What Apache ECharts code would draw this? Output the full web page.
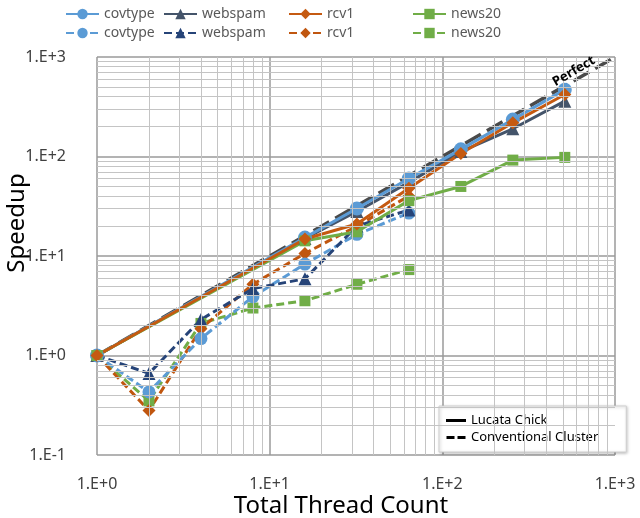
<!DOCTYPE html>
<html lang="en" style="height: 100%">
<head>
  <meta charset="utf-8">
</head>
<body style="height: 100%; margin: 0; background: #fff">
  <div id="container" style="width: 640px; height: 518px"></div>

  <script type="text/javascript" src="https://cdn.jsdelivr.net/npm/echarts@6/dist/echarts.min.js"></script>

  <script type="text/javascript">
    // thread counts
    const threadsChick = [1, 16, 32, 64, 128, 256, 512];
    const threadsCluster = [1, 2, 4, 8, 16, 32, 64];
    const perfectX = [1, 1000];

    // speedup, Lucata Chick (solid)
    const covtypeChick = [1, 15.3, 30, 60, 118, 235, 470];
    const webspamChick = [1, 15, 28, 55, 112, 190, 360];
    const rcv1Chick = [1, 14.8, 21, 48, 107, 218, 420];
    const news20Chick = [1, 14.2, 17.5, 36, 50, 92, 98];

    // speedup, conventional cluster (dashed)
    const covtypeCluster = [1, 0.43, 1.48, 3.9, 8.3, 16.5, 27];
    const webspamCluster = [1, 0.66, 2.3, 4.7, 5.9, 20, 29];
    const rcv1Cluster = [1, 0.28, 1.86, 5.2, 10.6, 20, 40];
    const news20Cluster = [1, 0.35, 2.1, 3.0, 3.55, 5.2, 7.3];

    const xDecades = [1, 10, 100];
    const yDecades = [0.1, 1, 10, 100];

    const font = '"Noto Sans", "Liberation Sans", sans-serif';

    function pairs(xs, ys) {
      return xs.map((x, i) => [x, ys[i]]);
    }

    function expLabel(v) {
      const e = Math.round(Math.log10(v));
      return '1.E' + (e < 0 ? '-' : '+') + Math.abs(e);
    }

    // minor grid lines at 2..9 times each decade
    const xMinor = [];
    xDecades.forEach(d => { for (let k = 2; k <= 9; k++) xMinor.push(d * k); });
    const yMinor = [];
    yDecades.forEach(d => { for (let k = 2; k <= 9; k++) yMinor.push(+(d * k).toPrecision(3)); });

    var dom = document.getElementById('container');
    var myChart = echarts.init(dom, null, { renderer: 'canvas' });

    function speedSeries(name, xs, ys, color, symbol, size, dashed) {
      return {
        name: name,
        type: 'line',
        data: pairs(xs, ys),
        color: color,
        symbol: symbol,
        symbolSize: size,
        showSymbol: true,
        lineStyle: { width: 3, type: dashed ? [8, 4] : 'solid', color: color },
        itemStyle: { color: color },
        z: 3
      };
    }

    function topLegend(pos, names) {
      return Object.assign({
        orient: 'vertical',
        top: 7,
        itemWidth: 33,
        itemHeight: 13,
        itemGap: 5,
        padding: 0,
        align: 'left',
        selectedMode: false,
        data: names,
        formatter: n => n.trim(),
        textStyle: { fontFamily: font, fontSize: 14, color: '#595959' }
      }, pos);
    }

    const solidIcon = 'path://M0,0H20V3H0Z';
    const dashIcon = 'path://M0,0H8V3H0Z M11,0H19V3H11Z';

    var option = {
      animation: false,
      grid: { left: 97, right: 25, top: 57, bottom: 63, outerBoundsMode: 'none', containLabel: false },
      legend: [
        topLegend({ left: 163 }, ['webspam', 'webspam ']),
        topLegend({ left: 288 }, ['rcv1', 'rcv1 ']),
        topLegend({ left: 412 }, ['news20', 'news20 ']),
        topLegend({ left: 39, padding: [0, 0, 0, 26] }, ['covtype', 'covtype ']),
        {
          orient: 'vertical',
          left: 439,
          top: 406,
          width: 155,
          padding: [8, 28, 8, 7],
          itemWidth: 20,
          itemHeight: 3,
          itemGap: 4,
          selectedMode: false,
          backgroundColor: '#fff',
          borderColor: '#d0d0d0',
          borderWidth: 1,
          shadowColor: 'rgba(0,0,0,0.25)',
          shadowBlur: 3,
          shadowOffsetX: 1,
          shadowOffsetY: 1,
          data: [
            { name: 'Lucata Chick', icon: solidIcon },
            { name: 'Conventional Cluster', icon: dashIcon }
          ],
          textStyle: { fontFamily: font, fontSize: 13, color: '#000' }
        }
      ],
      xAxis: {
        type: 'log',
        logBase: 10,
        min: 1,
        max: 1000,
        name: 'Total Thread Count',
        nameLocation: 'middle',
        nameGap: 39,
        nameMoveOverlap: false,
        nameTextStyle: { fontFamily: font, fontSize: 24, color: '#000', padding: [0, 30, 0, 0] },
        axisLine: { show: false },
        axisTick: { show: false },
        axisLabel: { formatter: expLabel, margin: 21, fontFamily: font, fontSize: 16, color: '#404040' },
        splitLine: { show: true, lineStyle: { color: '#9a9a9a', width: 1.5 } }
      },
      yAxis: {
        type: 'log',
        logBase: 10,
        min: 0.1,
        max: 1000,
        name: 'Speedup',
        nameLocation: 'middle',
        nameGap: 68,
        nameMoveOverlap: false,
        nameRotate: 90,
        nameTextStyle: { fontFamily: font, fontSize: 24, color: '#000', padding: [0, 0, 0, 66] },
        axisLine: { show: false },
        axisTick: { show: false },
        axisLabel: { formatter: expLabel, margin: 31, fontFamily: font, fontSize: 16, color: '#404040' },
        splitLine: { show: true, lineStyle: { color: '#9a9a9a', width: 1.5 } }
      },
      series: [
        {
          name: 'grid',
          type: 'line',
          data: [],
          silent: true,
          z: 0,
          markLine: {
            silent: true,
            symbol: ['none', 'none'],
            label: { show: false },
            lineStyle: { type: 'solid', color: '#c4c4c4', width: 1 },
            data: xMinor.map(v => ({ xAxis: v })).concat(yMinor.map(v => ({ yAxis: v })))
          }
        },
        {
          name: 'Perfect',
          type: 'line',
          data: pairs(perfectX, perfectX),
          symbol: 'none',
          silent: true,
          lineStyle: { color: '#4a4a4a', width: 3.5, type: [18, 7] },
          z: 2
        },
        { name: 'Lucata Chick', type: 'line', data: [], symbol: 'none', color: '#000', lineStyle: { color: '#000', width: 3, type: 'solid' } },
        { name: 'Conventional Cluster', type: 'line', data: [], symbol: 'none', color: '#000', lineStyle: { color: '#000', width: 3, type: [7, 4] } },
        speedSeries('news20 ', threadsCluster, news20Cluster, '#70AD47', 'rect', 11, true),
        speedSeries('rcv1 ', threadsCluster, rcv1Cluster, '#C0560F', 'diamond', 13, true),
        speedSeries('covtype ', threadsCluster, covtypeCluster, '#5B9BD5', 'circle', 13, true),
        speedSeries('webspam ', threadsCluster, webspamCluster, '#264478', 'triangle', 13, true),
        speedSeries('webspam', threadsChick, webspamChick, '#44546A', 'triangle', 13, false),
        speedSeries('covtype', threadsChick, covtypeChick, '#5B9BD5', 'circle', 14, false),
        speedSeries('news20', threadsChick, news20Chick, '#70AD47', 'rect', 11, false),
        speedSeries('rcv1', threadsChick, rcv1Chick, '#C55A11', 'diamond', 13, false)
      ]
    };

    myChart.setOption(option);

    // "Perfect" tag placed along the ideal-speedup line
    var anchor = myChart.convertToPixel({ gridIndex: 0 }, [570, 570]);
    myChart.setOption({
      graphic: [{
        type: 'text',
        x: anchor[0] + 1,
        y: anchor[1] - 10,
        rotation: Math.PI / 6,
        z: 10,
        style: {
          text: 'Perfect',
          fontFamily: font,
          fontSize: 13,
          fontWeight: 'bold',
          fill: '#000',
          align: 'center',
          verticalAlign: 'middle'
        }
      }]
    });
  </script>
</body>
</html>
